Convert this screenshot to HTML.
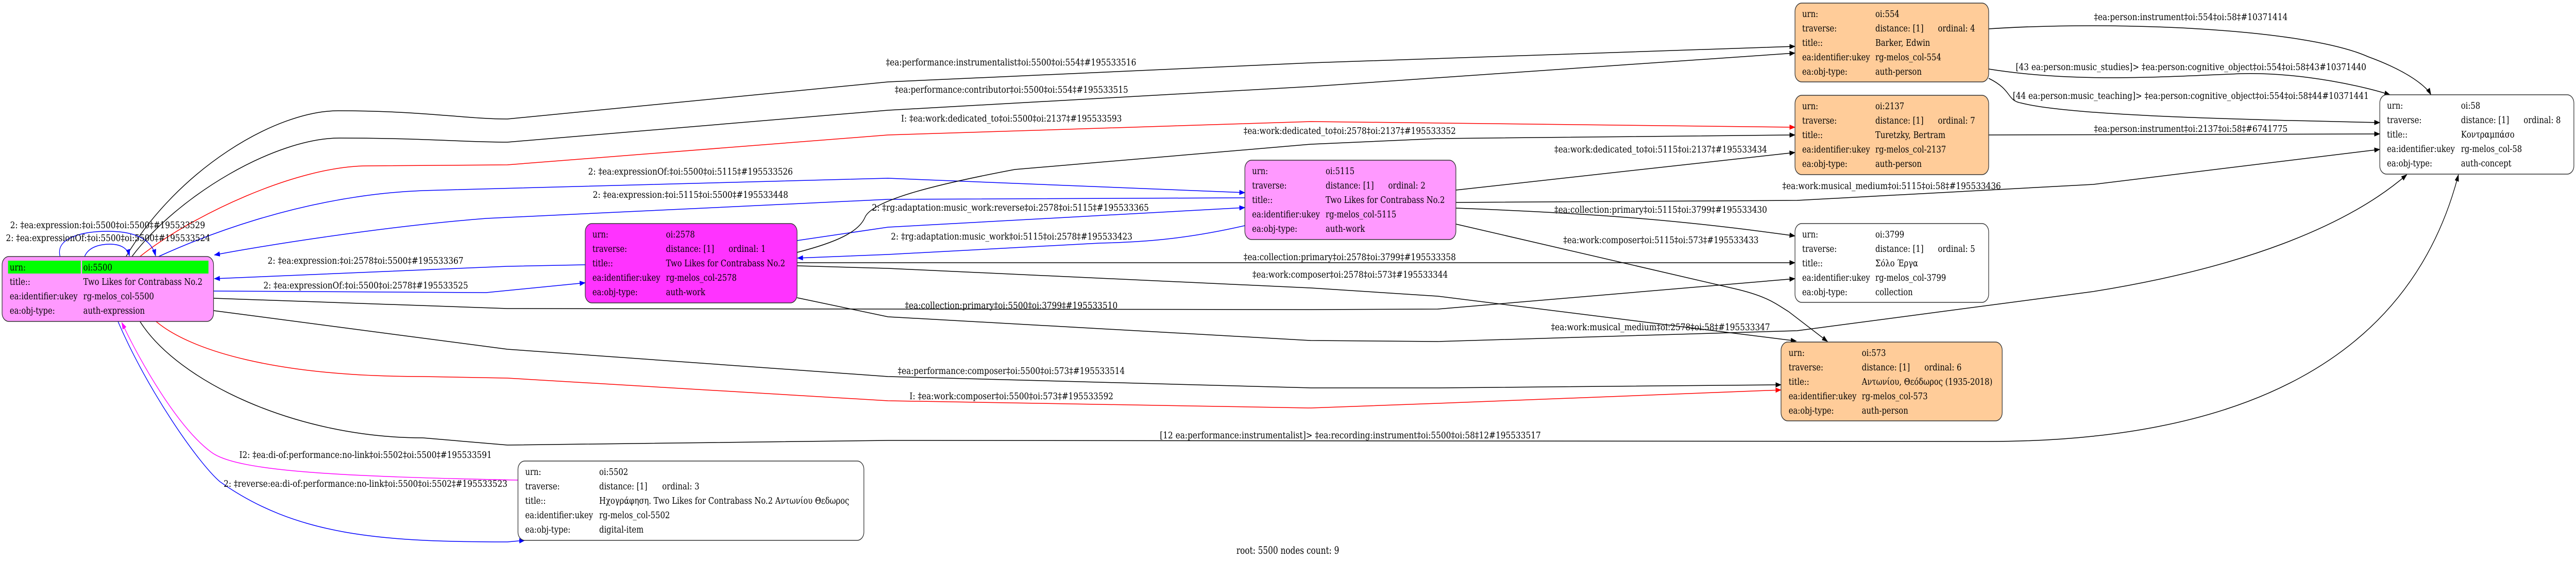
<!DOCTYPE html>
<html><head><meta charset="utf-8"><style>
html,body{margin:0;padding:0;background:#fff;overflow:hidden;width:100%;height:100%;}
svg{display:block;width:100vw;height:100vh;}
text{font-family:"DejaVu Serif","Liberation Serif","Noto Serif CJK SC",serif;fill:#000;}
.n{font-size:18px;}
.l{font-size:18px;dominant-baseline:central;}
.e{fill:none;stroke-width:1.5;}
</style></head><body>
<svg viewBox="0 0 6092 1091" preserveAspectRatio="none" xmlns="http://www.w3.org/2000/svg">
<defs>
<marker id="ak" markerUnits="userSpaceOnUse" markerWidth="14" markerHeight="10" refX="13" refY="5" orient="auto"><path d="M0,0 L14,5 L0,10 z" fill="#000"/></marker>
<marker id="ar" markerUnits="userSpaceOnUse" markerWidth="14" markerHeight="10" refX="13" refY="5" orient="auto"><path d="M0,0 L14,5 L0,10 z" fill="#f00"/></marker>
<marker id="ab" markerUnits="userSpaceOnUse" markerWidth="14" markerHeight="10" refX="13" refY="5" orient="auto"><path d="M0,0 L14,5 L0,10 z" fill="#00f"/></marker>
<marker id="am" markerUnits="userSpaceOnUse" markerWidth="14" markerHeight="10" refX="13" refY="5" orient="auto"><path d="M0,0 L14,5 L0,10 z" fill="#f0f"/></marker>
</defs>
<rect width="6092" height="1091" fill="#fff"/>

<g class="edges">
<path class="e" stroke="#000" marker-end="url(#ak)" d="M298,498 C420,330 650,215 800,215 C1000,215 1100,231 1200,231 L2100,159 L3100,122 L4245,90"/>
<path class="e" stroke="#000" marker-end="url(#ak)" d="M312,498 C420,380 650,268 803,268 C1000,268 1100,276 1200,276 L2100,214 L3100,168 L4245,103"/>
<path class="e" stroke="#f00" marker-end="url(#ar)" d="M331,498 C450,420 700,322 870,322 C1000,322 1100,320 1200,320 L2100,262 L3100,236 C3300,238 3500,240 4245,247"/>
<path class="e" stroke="#00f" marker-end="url(#ab)" d="M375,498 C450,470 700,380 1000,370 L2100,346 L2944,374"/>
<path class="e" stroke="#00f" marker-end="url(#ab)" d="M2944,384 L2100,387 L1150,424 C900,440 600,480 507,495"/>
<path class="e" stroke="#00f" marker-end="url(#ab)" d="M1384,514 L1200,517 L507,541"/>
<path class="e" stroke="#00f" marker-end="url(#ab)" d="M505,565 L1150,568 L1384,549"/>
<path class="e" stroke="#000" marker-end="url(#ak)" d="M505,579 L1200,599 L3100,601 L3400,600 L4245,541"/>
<path class="e" stroke="#000" marker-end="url(#ak)" d="M505,603 L1200,678 L2100,731 L3100,753 L3400,753 L4212,747"/>
<path class="e" stroke="#f00" marker-end="url(#ar)" d="M369,624 C450,680 650,731 1000,731 L1200,734 L2100,778 L3100,792 L3400,783 L4212,757"/>
<path class="e" stroke="#000" marker-end="url(#ak)" d="M331,624 C420,740 700,850 1000,850 L1200,864 L2100,855 L4700,857 C5300,857 5700,700 5814,339"/>
<path class="e" stroke="#f0f" marker-end="url(#am)" d="M1225,932 C800,925 560,915 500,878 C420,830 330,700 288,626"/>
<path class="e" stroke="#00f" marker-end="url(#ab)" d="M279,624 C350,760 470,900 520,935 C700,1040 900,1052 1200,1052 L1241,1049"/>
<path class="e" stroke="#00f" marker-end="url(#ab)" d="M142,498 C130,460 200,449 255,449 C330,449 360,470 368,497"/>
<path class="e" stroke="#00f" marker-end="url(#ab)" d="M200,498 C210,478 240,474 260,474 C290,474 303,485 306,497"/>
<path class="e" stroke="#00f" marker-end="url(#ab)" d="M1885,467 L2100,441 L2944,403"/>
<path class="e" stroke="#00f" marker-end="url(#ab)" d="M2944,438 C2800,465 2700,470 2600,472 L2100,494 L1886,501"/>
<path class="e" stroke="#000" marker-end="url(#ak)" d="M1885,490 C1980,470 2030,450 2045,423 C2060,390 2200,360 2400,329 L3100,280 L3400,269 L4245,262"/>
<path class="e" stroke="#000" marker-end="url(#ak)" d="M1885,510 L4245,510"/>
<path class="e" stroke="#000" marker-end="url(#ak)" d="M1885,516 L2100,521 L3100,559 L3400,575 L4248,662"/>
<path class="e" stroke="#000" marker-end="url(#ak)" d="M1885,578 L2100,615 L3100,661 L3400,663 L4250,642 L4950,566 C5300,520 5550,440 5692,339"/>
<path class="e" stroke="#000" marker-end="url(#ak)" d="M3443,369 L4245,296"/>
<path class="e" stroke="#000" marker-end="url(#ak)" d="M3443,404 C3800,415 4000,430 4245,458"/>
<path class="e" stroke="#000" marker-end="url(#ak)" d="M3443,435 L4100,560 C4180,575 4200,590 4230,605 L4322,663"/>
<path class="e" stroke="#000" marker-end="url(#ak)" d="M3443,393 L4250,389 L4950,358 L5628,290"/>
<path class="e" stroke="#000" marker-end="url(#ak)" d="M4703,262 L5628,260"/>
<path class="e" stroke="#000" marker-end="url(#ak)" d="M4703,152 C4760,175 4745,195 4780,200 C4900,225 5300,232 5628,238"/>
<path class="e" stroke="#000" marker-end="url(#ak)" d="M4703,134 C4900,160 5100,150 5300,143 C5450,140 5600,170 5652,184"/>
<path class="e" stroke="#000" marker-end="url(#ak)" d="M4703,56 C5000,40 5450,55 5600,110 C5700,140 5740,170 5749,184"/>
</g>

<g>
<text class="l" x="2095" y="121" textLength="592" lengthAdjust="spacingAndGlyphs">‡ea:performance:instrumentalist‡oi:5500‡oi:554‡#195533516</text>
<text class="l" x="2116" y="174" textLength="552" lengthAdjust="spacingAndGlyphs">‡ea:performance:contributor‡oi:5500‡oi:554‡#195533515</text>
<text class="l" x="2131" y="230" textLength="522" lengthAdjust="spacingAndGlyphs">I: ‡ea:work:dedicated_to‡oi:5500‡oi:2137‡#195533593</text>
<text class="l" x="1391" y="333" textLength="484" lengthAdjust="spacingAndGlyphs">2: ‡ea:expressionOf:‡oi:5500‡oi:5115‡#195533526</text>
<text class="l" x="1402" y="378" textLength="462" lengthAdjust="spacingAndGlyphs">2: ‡ea:expression:‡oi:5115‡oi:5500‡#195533448</text>
<text class="l" x="2062" y="403" textLength="655" lengthAdjust="spacingAndGlyphs">2: ‡rg:adaptation:music_work:reverse‡oi:2578‡oi:5115‡#195533365</text>
<text class="l" x="2107" y="459" textLength="571" lengthAdjust="spacingAndGlyphs">2: ‡rg:adaptation:music_work‡oi:5115‡oi:2578‡#195533423</text>
<text class="l" x="2941" y="254" textLength="502" lengthAdjust="spacingAndGlyphs">‡ea:work:dedicated_to‡oi:2578‡oi:2137‡#195533352</text>
<text class="l" x="2941" y="499" textLength="502" lengthAdjust="spacingAndGlyphs">‡ea:collection:primary‡oi:2578‡oi:3799‡#195533358</text>
<text class="l" x="2962" y="533" textLength="462" lengthAdjust="spacingAndGlyphs">‡ea:work:composer‡oi:2578‡oi:573‡#195533344</text>
<text class="l" x="2140" y="593" textLength="503" lengthAdjust="spacingAndGlyphs">‡ea:collection:primary‡oi:5500‡oi:3799‡#195533510</text>
<text class="l" x="2123" y="720" textLength="537" lengthAdjust="spacingAndGlyphs">‡ea:performance:composer‡oi:5500‡oi:573‡#195533514</text>
<text class="l" x="2151" y="769" textLength="482" lengthAdjust="spacingAndGlyphs">I: ‡ea:work:composer‡oi:5500‡oi:573‡#195533592</text>
<text class="l" x="2743" y="845" textLength="901" lengthAdjust="spacingAndGlyphs">[12 ea:performance:instrumentalist]&gt; ‡ea:recording:instrument‡oi:5500‡oi:58‡12#195533517</text>
<text class="l" x="3676" y="290" textLength="503" lengthAdjust="spacingAndGlyphs">‡ea:work:dedicated_to‡oi:5115‡oi:2137‡#195533434</text>
<text class="l" x="3676" y="407" textLength="503" lengthAdjust="spacingAndGlyphs">‡ea:collection:primary‡oi:5115‡oi:3799‡#195533430</text>
<text class="l" x="3697" y="466" textLength="462" lengthAdjust="spacingAndGlyphs">‡ea:work:composer‡oi:5115‡oi:573‡#195533433</text>
<text class="l" x="3668" y="635" textLength="518" lengthAdjust="spacingAndGlyphs">‡ea:work:musical_medium‡oi:2578‡oi:58‡#195533347</text>
<text class="l" x="4215" y="361" textLength="517" lengthAdjust="spacingAndGlyphs">‡ea:work:musical_medium‡oi:5115‡oi:58‡#195533436</text>
<text class="l" x="4952" y="33" textLength="458" lengthAdjust="spacingAndGlyphs">‡ea:person:instrument‡oi:554‡oi:58‡#10371414</text>
<text class="l" x="4767" y="130" textLength="829" lengthAdjust="spacingAndGlyphs">[43 ea:person:music_studies]&gt; ‡ea:person:cognitive_object‡oi:554‡oi:58‡43#10371440</text>
<text class="l" x="4760" y="186" textLength="842" lengthAdjust="spacingAndGlyphs">[44 ea:person:music_teaching]&gt; ‡ea:person:cognitive_object‡oi:554‡oi:58‡44#10371441</text>
<text class="l" x="4952" y="250" textLength="458" lengthAdjust="spacingAndGlyphs">‡ea:person:instrument‡oi:2137‡oi:58‡#6741775</text>
<text class="l" x="633" y="506" textLength="463" lengthAdjust="spacingAndGlyphs">2: ‡ea:expression:‡oi:2578‡oi:5500‡#195533367</text>
<text class="l" x="623" y="554" textLength="484" lengthAdjust="spacingAndGlyphs">2: ‡ea:expressionOf:‡oi:5500‡oi:2578‡#195533525</text>
<text class="l" x="566" y="883" textLength="597" lengthAdjust="spacingAndGlyphs">I2: ‡ea:di-of:performance:no-link‡oi:5502‡oi:5500‡#195533591</text>
<text class="l" x="529" y="939" textLength="671" lengthAdjust="spacingAndGlyphs">2: ‡reverse:ea:di-of:performance:no-link‡oi:5500‡oi:5502‡#195533523</text>
<text class="l" x="24" y="437" textLength="461" lengthAdjust="spacingAndGlyphs">2: ‡ea:expression:‡oi:5500‡oi:5500‡#195533529</text>
<text class="l" x="14" y="462" textLength="483" lengthAdjust="spacingAndGlyphs">2: ‡ea:expressionOf:‡oi:5500‡oi:5500‡#195533524</text>
</g>

<g>
<rect x="5" y="498" width="500" height="126" rx="16" fill="#ff99ff" stroke="#333" stroke-width="1.5"/>
<rect x="19" y="506" width="172" height="25" fill="#00ff00"/>
<rect x="194" y="506" width="299" height="25" fill="#00ff00"/>
<text class="n" x="23" y="525">urn:</text><text class="n" x="197" y="525">oi:5500</text>
<text class="n" x="23" y="553">title::</text><text class="n" x="197" y="553">Two Likes for Contrabass No.2</text>
<text class="n" x="23" y="581">ea:identifier:ukey</text><text class="n" x="197" y="581">rg-melos_col-5500</text>
<text class="n" x="23" y="609">ea:obj-type:</text><text class="n" x="197" y="609">auth-expression</text>
</g>

<g>
<rect x="1384" y="434" width="501" height="154" rx="16" fill="#ff33ff" stroke="#333" stroke-width="1.5"/>
<text class="n" x="1401" y="461">urn:</text><text class="n" x="1575" y="461">oi:2578</text>
<text class="n" x="1401" y="489">traverse:</text><text class="n" x="1575" y="489">distance: [1]</text><text class="n" x="1723" y="489">ordinal: 1</text>
<text class="n" x="1401" y="517">title::</text><text class="n" x="1575" y="517">Two Likes for Contrabass No.2</text>
<text class="n" x="1401" y="545">ea:identifier:ukey</text><text class="n" x="1575" y="545">rg-melos_col-2578</text>
<text class="n" x="1401" y="573">ea:obj-type:</text><text class="n" x="1575" y="573">auth-work</text>
</g>

<g>
<rect x="2944" y="311" width="499" height="154" rx="16" fill="#ff99ff" stroke="#333" stroke-width="1.5"/>
<text class="n" x="2961" y="338">urn:</text><text class="n" x="3135" y="338">oi:5115</text>
<text class="n" x="2961" y="366">traverse:</text><text class="n" x="3135" y="366">distance: [1]</text><text class="n" x="3283" y="366">ordinal: 2</text>
<text class="n" x="2961" y="394">title::</text><text class="n" x="3135" y="394">Two Likes for Contrabass No.2</text>
<text class="n" x="2961" y="422">ea:identifier:ukey</text><text class="n" x="3135" y="422">rg-melos_col-5115</text>
<text class="n" x="2961" y="450">ea:obj-type:</text><text class="n" x="3135" y="450">auth-work</text>
</g>

<g>
<rect x="1225" y="895" width="818" height="154" rx="16" fill="#fff" stroke="#333" stroke-width="1.5"/>
<text class="n" x="1242" y="922">urn:</text><text class="n" x="1417" y="922">oi:5502</text>
<text class="n" x="1242" y="950">traverse:</text><text class="n" x="1417" y="950">distance: [1]</text><text class="n" x="1566" y="950">ordinal: 3</text>
<text class="n" x="1242" y="978">title::</text><text class="n" x="1417" y="978">Ηχογράφηση. Two Likes for Contrabass No.2 Αντωνίου Θεδωρος</text>
<text class="n" x="1242" y="1006">ea:identifier:ukey</text><text class="n" x="1417" y="1006">rg-melos_col-5502</text>
<text class="n" x="1242" y="1034">ea:obj-type:</text><text class="n" x="1417" y="1034">digital-item</text>
</g>

<g>
<rect x="4245" y="6" width="458" height="153" rx="16" fill="#ffcc99" stroke="#333" stroke-width="1.5"/>
<text class="n" x="4262" y="33">urn:</text><text class="n" x="4435" y="33">oi:554</text>
<text class="n" x="4262" y="61">traverse:</text><text class="n" x="4435" y="61">distance: [1]</text><text class="n" x="4583" y="61">ordinal: 4</text>
<text class="n" x="4262" y="89">title::</text><text class="n" x="4435" y="89">Barker, Edwin</text>
<text class="n" x="4262" y="117">ea:identifier:ukey</text><text class="n" x="4435" y="117">rg-melos_col-554</text>
<text class="n" x="4262" y="145">ea:obj-type:</text><text class="n" x="4435" y="145">auth-person</text>
</g>

<g>
<rect x="4245" y="185" width="458" height="154" rx="16" fill="#ffcc99" stroke="#333" stroke-width="1.5"/>
<text class="n" x="4262" y="212">urn:</text><text class="n" x="4435" y="212">oi:2137</text>
<text class="n" x="4262" y="240">traverse:</text><text class="n" x="4435" y="240">distance: [1]</text><text class="n" x="4583" y="240">ordinal: 7</text>
<text class="n" x="4262" y="268">title::</text><text class="n" x="4435" y="268">Turetzky, Bertram</text>
<text class="n" x="4262" y="296">ea:identifier:ukey</text><text class="n" x="4435" y="296">rg-melos_col-2137</text>
<text class="n" x="4262" y="324">ea:obj-type:</text><text class="n" x="4435" y="324">auth-person</text>
</g>

<g>
<rect x="4245" y="434" width="458" height="153" rx="16" fill="#fff" stroke="#333" stroke-width="1.5"/>
<text class="n" x="4262" y="461">urn:</text><text class="n" x="4435" y="461">oi:3799</text>
<text class="n" x="4262" y="489">traverse:</text><text class="n" x="4435" y="489">distance: [1]</text><text class="n" x="4583" y="489">ordinal: 5</text>
<text class="n" x="4262" y="517">title::</text><text class="n" x="4435" y="517">Σόλο Έργα</text>
<text class="n" x="4262" y="545">ea:identifier:ukey</text><text class="n" x="4435" y="545">rg-melos_col-3799</text>
<text class="n" x="4262" y="573">ea:obj-type:</text><text class="n" x="4435" y="573">collection</text>
</g>

<g>
<rect x="4212" y="664" width="523" height="153" rx="16" fill="#ffcc99" stroke="#333" stroke-width="1.5"/>
<text class="n" x="4230" y="691">urn:</text><text class="n" x="4403" y="691">oi:573</text>
<text class="n" x="4230" y="719">traverse:</text><text class="n" x="4403" y="719">distance: [1]</text><text class="n" x="4551" y="719">ordinal: 6</text>
<text class="n" x="4230" y="747">title::</text><text class="n" x="4403" y="747">Αντωνίου, Θεόδωρος (1935-2018)</text>
<text class="n" x="4230" y="775">ea:identifier:ukey</text><text class="n" x="4403" y="775">rg-melos_col-573</text>
<text class="n" x="4230" y="803">ea:obj-type:</text><text class="n" x="4403" y="803">auth-person</text>
</g>

<g>
<rect x="5628" y="184" width="459" height="154" rx="16" fill="#fff" stroke="#333" stroke-width="1.5"/>
<text class="n" x="5645" y="211">urn:</text><text class="n" x="5820" y="211">oi:58</text>
<text class="n" x="5645" y="239">traverse:</text><text class="n" x="5820" y="239">distance: [1]</text><text class="n" x="5968" y="239">ordinal: 8</text>
<text class="n" x="5645" y="267">title::</text><text class="n" x="5820" y="267">Κοντραμπάσο</text>
<text class="n" x="5645" y="295">ea:identifier:ukey</text><text class="n" x="5820" y="295">rg-melos_col-58</text>
<text class="n" x="5645" y="323">ea:obj-type:</text><text class="n" x="5820" y="323">auth-concept</text>
</g>

<text x="2924" y="1075" style="font-size:20px" textLength="243" lengthAdjust="spacingAndGlyphs">root: 5500 nodes count: 9</text>
</svg>
</body></html>
